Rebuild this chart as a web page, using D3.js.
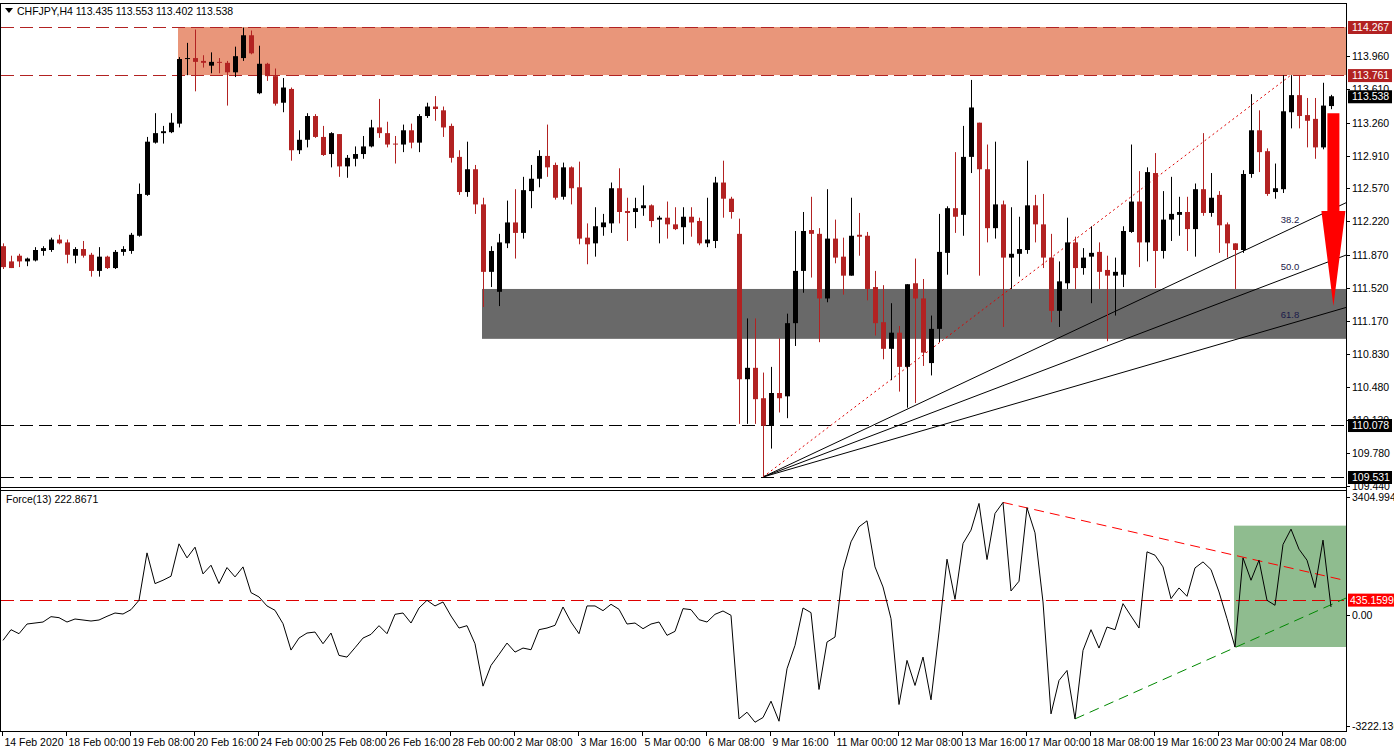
<!DOCTYPE html>
<html><head><meta charset="utf-8">
<script src="https://cdn.jsdelivr.net/npm/d3@7"></script>
<style>body{margin:0;background:#fff}svg{display:block}text{font-family:"Liberation Sans",Arial,sans-serif}</style>
</head><body><div id="chart"></div>
<script>
// OHLC per H4 candle
var opens  = [111.96,111.80,111.86,111.80,111.81,111.91,111.92,112.03,112.00,111.86,111.93,111.87,111.70,111.85,111.73,111.90,111.91,112.07,112.50,113.05,113.15,113.16,113.25,113.93,113.94,113.91,113.86,113.90,113.89,113.79,113.94,114.18,113.57,113.88,113.75,113.47,113.615,112.97,113.08,113.33,113.11,112.93,113.14,112.80,112.88,112.93,113.01,113.21,113.15,113.04,113.03,113.18,113.05,113.33,113.43,113.39,113.226,112.90,
  112.53,112.77,112.40,111.69,111.48,111.99,112.21,112.10,112.54,112.67,112.91,112.815,112.48,112.79,112.58,112.05,111.99,112.16,112.20,112.57,112.33,112.32,112.36,112.39,112.24,112.26,112.19,112.16,112.27,112.225,111.99,112.015,112.63,112.46,112.09,110.56,110.68,110.36,110.07,110.415,110.38,111.15,111.70,112.13,112.09,111.41,112.04,111.85,111.65,112.08,112.07,111.53,111.16,110.88,111.05,110.69,111.57,
  111.41,110.73,111.09,111.89,112.36,112.29,112.90,113.26,112.77,112.15,112.40,111.84,111.88,111.92,112.39,112.19,111.84,111.28,111.57,112.00,111.73,111.85,111.90,111.71,111.65,111.66,112.11,112.43,112.00,112.73,111.91,112.24,112.29,112.32,112.14,112.56,112.31,112.50,112.19,111.99,111.92,112.72,113.18,112.96,112.53,112.56,113.37,113.55,113.34,113.30,113.00,113.435];
var highs  = [111.99,111.86,111.88,111.84,111.95,111.96,112.05,112.08,112.03,111.95,112.015,111.89,111.95,111.86,111.92,111.96,112.10,112.62,113.11,113.36,113.226,113.36,113.95,114.10,114.24,113.97,114.00,113.94,113.91,114.06,114.26,114.23,114.07,113.89,113.83,113.73,113.63,113.18,113.36,113.35,113.226,113.16,113.14,112.92,113.01,113.12,113.29,113.51,113.27,113.12,113.24,113.25,113.35,113.47,113.54,113.43,113.25,112.97,
  113.06,112.815,112.47,111.96,112.09,112.44,112.56,112.69,112.815,112.97,113.24,112.84,112.84,112.80,112.85,112.20,112.37,112.30,112.63,112.78,112.47,112.47,112.60,112.40,112.28,112.43,112.37,112.37,112.37,112.26,112.47,112.69,112.86,112.48,112.25,111.20,111.20,110.63,110.69,110.99,111.25,112.12,112.32,112.48,112.15,112.56,112.24,112.05,112.47,112.31,112.11,111.70,111.55,111.36,111.12,111.56,111.83,
  111.615,111.23,112.30,112.38,112.95,113.226,113.71,113.26,113.03,113.06,112.44,112.37,112.27,112.86,112.50,112.51,112.09,111.80,112.26,112.06,111.94,112.17,112.00,111.86,111.84,112.17,113.03,112.75,112.79,112.94,112.54,112.69,112.48,112.48,112.62,113.15,112.73,112.54,112.21,111.99,112.76,113.56,113.39,112.99,112.83,113.76,113.76,113.76,113.52,113.52,113.68,113.553];
var lows   = [111.72,111.73,111.74,111.75,111.80,111.86,111.90,111.98,111.78,111.78,111.84,111.64,111.64,111.72,111.72,111.86,111.88,112.06,112.49,113.04,113.04,113.15,113.21,113.76,113.59,113.84,113.78,113.78,113.44,113.74,113.91,113.98,113.56,113.70,113.44,113.37,112.86,112.93,113.00,113.10,112.91,112.79,112.69,112.68,112.80,112.88,113.00,113.10,113.00,112.83,112.95,112.99,112.95,113.31,113.28,113.11,112.84,112.50,
  112.48,112.30,111.32,111.53,111.33,111.94,111.83,112.04,112.36,112.58,112.69,112.45,112.45,112.40,111.98,111.77,111.85,112.07,112.10,112.20,112.015,112.15,112.28,112.16,111.99,112.04,112.13,111.98,112.06,111.97,111.95,111.94,112.26,112.25,110.09,110.09,110.09,109.531,109.83,110.21,110.15,110.91,111.47,111.63,110.95,111.37,111.78,111.45,111.65,111.86,111.39,111.02,110.77,110.55,110.43,110.26,110.31,
  110.70,110.60,110.95,111.66,112.10,112.07,112.73,111.65,112.00,112.04,111.11,111.51,111.64,111.88,112.00,111.73,111.16,111.11,111.51,111.51,111.66,111.36,111.51,110.96,111.23,111.53,112.10,111.74,111.80,111.52,111.83,112.015,112.07,111.91,111.85,112.28,112.27,111.89,111.84,111.51,111.89,112.68,112.74,112.49,112.46,112.52,113.20,113.20,113.00,112.88,112.98,113.402];
var closes = [111.74,111.73,111.80,111.83,111.92,111.94,112.03,111.99,111.87,111.93,111.86,111.70,111.85,111.73,111.90,111.93,112.08,112.51,113.06,113.15,113.17,113.26,113.93,113.94,113.90,113.89,113.90,113.89,113.79,113.96,114.18,113.99,113.88,113.75,113.46,113.63,112.97,113.08,113.33,113.11,112.92,113.15,112.80,112.89,112.93,113.01,113.21,113.15,113.03,113.03,113.18,113.05,113.33,113.43,113.404,113.21,112.89,112.53,
  112.77,112.40,111.69,111.91,112.00,112.21,112.10,112.55,112.67,112.91,112.79,112.47,112.79,112.57,112.04,111.98,112.17,112.21,112.57,112.32,112.31,112.36,112.39,112.225,112.26,112.19,112.14,112.27,112.21,111.99,112.03,112.63,112.46,112.32,110.56,110.68,110.35,110.07,110.415,110.36,111.15,111.70,112.12,112.09,111.41,112.04,111.84,111.65,112.07,112.06,111.51,111.15,110.88,111.05,110.69,111.56,111.41,
  110.84,111.09,111.90,112.36,112.27,112.90,113.42,112.77,112.15,112.40,111.84,111.88,111.93,112.39,112.19,111.84,111.28,111.59,112.00,111.73,111.84,111.89,111.69,111.65,111.69,112.12,112.43,112.00,112.74,111.91,112.24,112.30,112.32,112.14,112.56,112.31,112.47,112.18,111.99,111.92,112.72,113.18,112.95,112.51,112.57,113.38,113.55,113.33,113.28,113.00,113.44,113.538];

// Force(13) per candle
var force = [-744,-435,-551,-271,-242,-213,-58,-87,-213,-126,-155,-184,-155,-48,48,19,145,416,1788,899,996,1112,2049,1643,1953,1179,1431,899,1363,1093,1382,638,512,252,126,-261,-1025,-677,-532,-503,-841,-532,-1179,-1228,-957,-677,-570,-319,-551,10,48,-242,193,416,252,367,-39,-387,
  -319,-841,-2069,-1469,-1150,-822,-1083,-967,-1015,-435,-387,-309,222,-213,-551,252,252,116,300,155,-271,-242,-406,-271,-213,-599,-483,174,145,-145,-213,10,106,-19,-3016,-2823,-3113,-2977,-2504,-3084,-1566,-889,193,58,-2165,-793,-648,1286,2107,2542,2716,1382,802,-116,-2600,-1324,-2049,
  -1228,-2465,-503,1605,445,2059,2446,3219,1595,2929,3248,686,967,3094,2368,367,-2871,-1905,-1615,-3016,-1034,-435,-967,-358,-435,319,-39,-387,1818,1721,1382,464,773,531,1353,1527,1305,657,-116,-938,1643,996,1576,416,271,2030,2475,1895,1576,783,2156,222.87];

var dateLabels = ["14 Feb 2020","18 Feb 00:00","19 Feb 08:00","20 Feb 16:00","24 Feb 00:00","25 Feb 08:00","26 Feb 16:00","28 Feb 00:00","2 Mar 08:00","3 Mar 16:00","5 Mar 00:00","6 Mar 08:00","9 Mar 16:00","11 Mar 00:00","12 Mar 08:00","13 Mar 16:00","17 Mar 00:00","18 Mar 08:00","19 Mar 16:00","23 Mar 00:00","24 Mar 08:00"];
var priceTicks = [113.960,113.610,113.260,112.910,112.570,112.220,111.870,111.520,111.170,110.830,110.480,110.130,109.780,109.440];
var resistance = [114.267,113.761];
var support = [110.078,109.531];
var grayZone = [111.51,110.985];
var fibLevels = [38.2,50.0,61.8];
var forceTicks = [3404.9948,0.00,-3222.136];
var forceLevel = 435.1599;
var forceBox = [2576,-936];

var W=1394,H=753,R=1346,FS=10.5;
var svg=d3.select("#chart").append("svg").attr("width",W).attr("height",H);
var x=d3.scaleLinear().domain([0,166]).range([3,1331]);
var y=d3.scaleLinear().domain([109.531,114.267]).range([477,27]);
var yf=d3.scaleLinear().domain([-3222.136,3404.9948]).range([726,497]);
var n=opens.length;

// frame
svg.append("rect").attr("x",0.5).attr("y",3.5).attr("width",R).attr("height",728).attr("fill","none").attr("stroke","#000");
svg.append("line").attr("x1",0).attr("x2",R).attr("y1",487.5).attr("y2",487.5).attr("stroke","#000");
svg.append("line").attr("x1",0).attr("x2",R).attr("y1",490.5).attr("y2",490.5).attr("stroke","#000");

var main=svg.append("g");
// zones
main.append("rect").attr("x",178).attr("y",y(resistance[0])).attr("width",R-178).attr("height",y(resistance[1])-y(resistance[0])).attr("fill","#e9967a");
main.append("rect").attr("x",482).attr("y",y(grayZone[0])).attr("width",R-482).attr("height",y(grayZone[1])-y(grayZone[0])).attr("fill","#696969");
resistance.forEach(function(p){
  main.append("line").attr("x1",1).attr("x2",R).attr("y1",Math.round(y(p))+0.5).attr("y2",Math.round(y(p))+0.5).attr("stroke","#b22222").attr("stroke-dasharray","13,6");
});
support.forEach(function(p){
  main.append("line").attr("x1",1).attr("x2",R).attr("y1",Math.round(y(p))+0.5).attr("y2",Math.round(y(p))+0.5).attr("stroke","#000").attr("stroke-dasharray","13,6");
});

// fib fan
var i0=95,i1=161,lo=lows[i0],hi=113.761;
main.append("line").attr("x1",x(i0)).attr("y1",y(lo)).attr("x2",x(i1)).attr("y2",y(hi)).attr("stroke","#d00").attr("stroke-dasharray","2,3");
fibLevels.forEach(function(f){
  var pe=hi-(hi-lo)*f/100;
  var slope=(y(pe)-y(lo))/(x(i1)-x(i0));
  main.append("line").attr("x1",x(i0)).attr("y1",y(lo)).attr("x2",R).attr("y2",y(lo)+slope*(R-x(i0))).attr("stroke","#000").attr("stroke-width",1);
  main.append("text").attr("x",1290).attr("y",y(lo)+slope*(1290-x(i0))-6).attr("font-size",9.5).attr("fill","#1a1a4a").attr("text-anchor","middle").text(f.toFixed(1));
});

// candles
for(var i=0;i<n;i++){
  var up=closes[i]>=opens[i], col=up?"#000":"#b22222", cx=Math.round(x(i))+0.5;
  main.append("line").attr("x1",cx).attr("x2",cx).attr("y1",y(highs[i])).attr("y2",y(lows[i])).attr("stroke",col);
  var t=y(Math.max(opens[i],closes[i])),b=y(Math.min(opens[i],closes[i]));
  main.append("rect").attr("x",cx-2.5).attr("y",t).attr("width",5).attr("height",Math.max(1,b-t)).attr("fill",col);
}

// arrow
var ax=x(166.3), at=y(113.36), am=y(112.33), ab=y(111.33);
main.append("path").attr("d","M"+(ax-6)+","+at+"L"+(ax+6)+","+at+"L"+(ax+6)+","+am+"L"+(ax+12)+","+am+"L"+ax+","+ab+"L"+(ax-12)+","+am+"L"+(ax-6)+","+am+"Z").attr("fill","#f00");

// price axis
var ax1=svg.append("g");
priceTicks.forEach(function(p){
  ax1.append("line").attr("x1",R).attr("x2",R+4).attr("y1",Math.round(y(p))+0.5).attr("y2",Math.round(y(p))+0.5).attr("stroke","#000");
  ax1.append("text").attr("x",R+6).attr("y",y(p)+4).attr("font-size",FS).text(p.toFixed(3));
});
function tag(v,yy,bg){
  ax1.append("rect").attr("x",R+2).attr("y",yy-6).attr("width",44).attr("height",13).attr("fill",bg);
  ax1.append("text").attr("x",R+6).attr("y",yy+4).attr("font-size",FS).attr("fill","#fff").text(v);
}
tag("114.267",y(114.267),"#b22222");
tag("113.761",y(113.761),"#b22222");
tag("113.538",y(113.538),"#000");
tag("110.078",y(110.078),"#000");
tag("109.531",y(109.531),"#000");

// header
svg.append("path").attr("d","M5,8L13,8L9,13Z").attr("fill","#000");
svg.append("text").attr("x",17).attr("y",15).attr("font-size",FS).text("CHFJPY,H4  113.435 113.553 113.402 113.538");

// force panel
var fp=svg.append("g");
fp.append("rect").attr("x",1234).attr("y",yf(forceBox[0])).attr("width",R-1234).attr("height",yf(forceBox[1])-yf(forceBox[0])).attr("fill","#8fbc8f");
fp.append("line").attr("x1",1).attr("x2",R).attr("y1",Math.round(yf(forceLevel))+0.5).attr("y2",Math.round(yf(forceLevel))+0.5).attr("stroke","#d00").attr("stroke-dasharray","13,6");
fp.append("line").attr("x1",x(125)).attr("y1",yf(force[125])).attr("x2",R).attr("y2",yf(984)).attr("stroke","#f00").attr("stroke-dasharray","10,6");
fp.append("line").attr("x1",x(134)).attr("y1",yf(force[134])).attr("x2",R).attr("y2",yf(480)).attr("stroke","#080").attr("stroke-dasharray","10,6");
fp.append("path").datum(force).attr("fill","none").attr("stroke","#000").attr("stroke-width",1)
  .attr("d",d3.line().x(function(d,i){return x(i);}).y(function(d){return yf(d);}));
fp.append("text").attr("x",6).attr("y",503).attr("font-size",FS).text("Force(13) 222.8671");
forceTicks.forEach(function(v){
  fp.append("line").attr("x1",R).attr("x2",R+4).attr("y1",Math.round(yf(v))+0.5).attr("y2",Math.round(yf(v))+0.5).attr("stroke","#000");
  fp.append("text").attr("x",R+6).attr("y",yf(v)+4).attr("font-size",FS).text(v.toFixed(v===0?2:(v>0?4:3)));
});
fp.append("rect").attr("x",R+2).attr("y",yf(forceLevel)-6).attr("width",46).attr("height",13).attr("fill","#f00");
fp.append("text").attr("x",R+4).attr("y",yf(forceLevel)+4).attr("font-size",FS).attr("fill","#fff").text(forceLevel.toFixed(4));

// time axis
dateLabels.forEach(function(s,k){
  var tx=Math.round(x(k*8))-1+0.5;
  svg.append("line").attr("x1",tx).attr("x2",tx).attr("y1",731).attr("y2",736).attr("stroke","#000");
  svg.append("text").attr("x",tx+2).attr("y",746).attr("font-size",FS).text(s);
});
</script></body></html>
